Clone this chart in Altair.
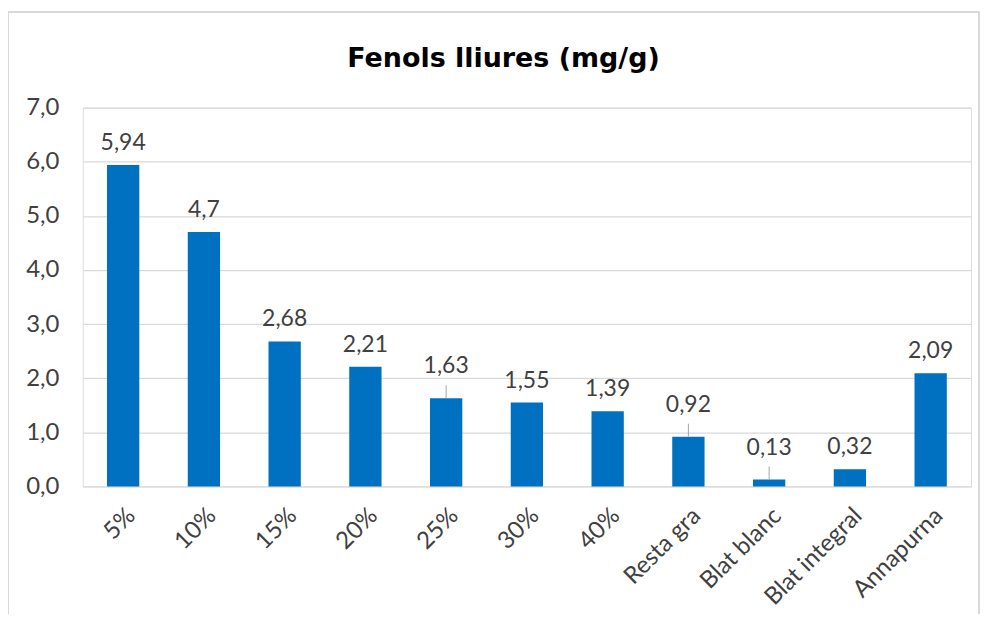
import altair as alt
import pandas as pd

categories = ["5%", "10%", "15%", "20%", "25%", "30%", "40%",
              "Resta gra", "Blat blanc", "Blat integral", "Annapurna"]
values = [5.94, 4.7, 2.68, 2.21, 1.63, 1.55, 1.39, 0.92, 0.13, 0.32, 2.09]
leader_categories = ["25%", "Resta gra", "Blat blanc"]
y_ticks = [0, 1, 2, 3, 4, 5, 6, 7]
title_text = "Fenols lliures (mg/g)"

df = pd.DataFrame({"cat": categories, "v": values})
df["leader"] = df["cat"].isin(leader_categories)

FONT = "Lato"
BLUE = "#0070C0"
GRID = "#D9D9D9"
TXT = "#404040"

x_enc = alt.X("cat:N", sort=categories, title=None,
              scale=alt.Scale(paddingInner=0.6, paddingOuter=0.3),
              axis=alt.Axis(labelAngle=-45, labelAlign="right", labelBaseline="top",
                            labelPadding=17, ticks=False, domain=False, labelOverlap=False,
                            labelFont=FONT, labelFontSize=24, labelColor=TXT))
y_enc = alt.Y("v:Q", title=None,
              scale=alt.Scale(domain=[0, 7], nice=False),
              axis=alt.Axis(values=y_ticks, labelExpr="replace(format(datum.value, '.1f'), '.', ',')",
                            labelPadding=24, ticks=False, domain=False,
                            gridColor=GRID, gridWidth=1.3,
                            labelFont=FONT, labelFontSize=24, labelColor=TXT))

base = alt.Chart(df).transform_calculate(
    lab="replace(toString(datum.v), '.', ',')"
)

bars = base.mark_bar(color=BLUE).encode(x=x_enc, y=y_enc)

labels_plain = base.transform_filter("!datum.leader").mark_text(
    font=FONT, fontSize=23, color=TXT, baseline="middle", dy=-22
).encode(x=alt.X("cat:N", sort=categories), y="v:Q", text="lab:N")

labels_lead = base.transform_filter("datum.leader").mark_text(
    font=FONT, fontSize=23, color=TXT, baseline="middle", dy=-32
).encode(x=alt.X("cat:N", sort=categories), y="v:Q", text="lab:N")

leaders = base.transform_filter("datum.leader").mark_rule(
    color="#A6A6A6", strokeWidth=1, y2Offset=-13
).encode(x=alt.X("cat:N", sort=categories), y="v:Q", y2="v:Q")

frame = alt.Chart(alt.Data(values=[{"a": 1}])).mark_rect(
    fill=None, stroke=GRID, strokeWidth=2, clip=False
).encode(x=alt.value(-75), x2=alt.value(899), y=alt.value(-96), y2=alt.value(510))

title = alt.Chart(alt.Data(values=[{"t": title_text}])).mark_text(
    font="DejaVu Sans", fontSize=27, fontWeight="bold", color="#000000",
    align="center", baseline="alphabetic", clip=False
).encode(x=alt.value(422), y=alt.value(-41), text="t:N")

chart = alt.layer(frame, bars, leaders, labels_plain, labels_lead, title).properties(
    width=891, height=380,
    padding={"left": 75, "top": 99, "right": 10, "bottom": 127},
    autosize=alt.AutoSizeParams(type="none"),
).configure_view(stroke=GRID, strokeWidth=1.3).configure(background="white")

chart.save("out.html", embed_options={"renderer": "svg", "actions": False})
